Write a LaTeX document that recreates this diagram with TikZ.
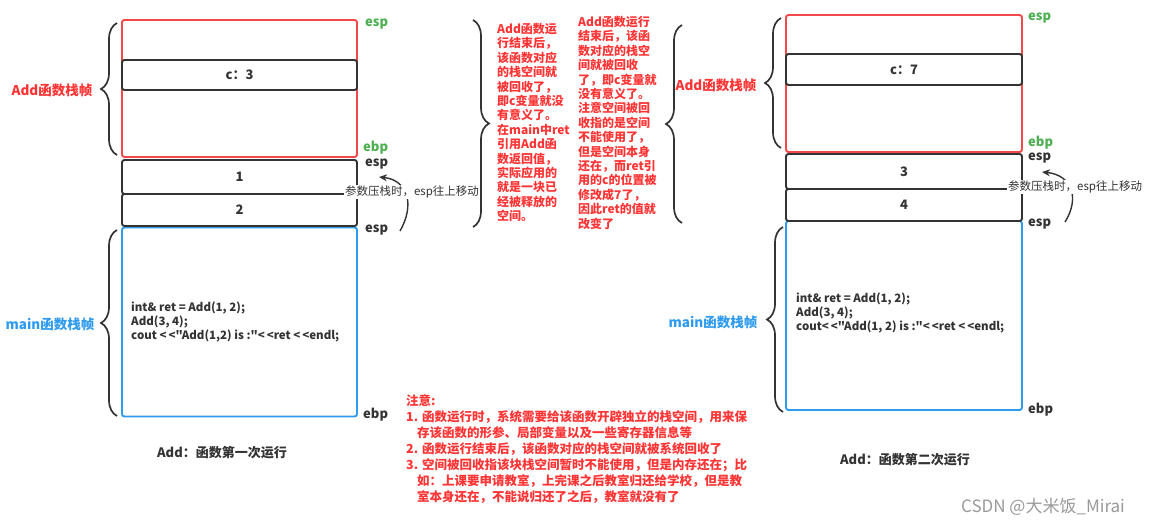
\documentclass[tikz,border=0pt]{standalone}
\usepackage{fontspec}
\setmainfont{Noto Sans CJK SC}
\newfontfamily\codefont{Noto Sans CJK SC}[Ligatures=TeXOff]
\usetikzlibrary{decorations.pathreplacing,arrows.meta}
\definecolor{framered}{HTML}{F24848}
\definecolor{notered}{HTML}{FF3535}
\definecolor{reggreen}{HTML}{4CAF50}
\definecolor{mainblue}{HTML}{2F9BF0}
\definecolor{inkgray}{HTML}{333333}

\begin{document}
\begin{tikzpicture}[x=1pt,y=-1pt,
  cell/.style={draw=inkgray,line width=1.9pt,rounded corners=2.5pt,minimum width=235pt,
    inner sep=0pt,text=inkgray,font=\bfseries\fontsize{13}{15}\selectfont},
  addframe/.style={cell,draw=framered},
  mainframe/.style={cell,draw=mainblue},
  reglbl/.style={anchor=west,inner sep=0pt,text=inkgray,font=\bfseries\fontsize{13}{15}\selectfont},
  topreg/.style={reglbl,text=reggreen},
  framebrace/.style={decorate,decoration={brace,amplitude=16pt},draw=inkgray,line width=1.7pt},
  framelbl/.style={inner sep=0pt,font=\bfseries\fontsize{13.5}{15}\selectfont},
  codetxt/.style={anchor=west,align=left,inner sep=0pt,text=inkgray,font=\codefont\bfseries\fontsize{11.5}{14}\selectfont},
  pushlbl/.style={fill=white,inner sep=1pt,text=inkgray,font=\fontsize{11.5}{14}\selectfont},
  pusharrow/.style={draw=inkgray,line width=1.4pt,-{Stealth[length=8pt,width=7pt]}},
  redcol/.style={anchor=north west,align=left,inner sep=0pt,text=notered,font=\bfseries\fontsize{12}{14.4}\selectfont},
  caption/.style={inner sep=0pt,text=inkgray,font=\bfseries\fontsize{13}{15}\selectfont}]
\useasboundingbox (0,0) rectangle (1149,526);

% first run: Add(1,2)
\node[mainframe,minimum height=189pt] (mainL) at (239.5,322) {};
\node[addframe,minimum height=137pt] (addL) at (239.5,88.5) {};
\node[cell,minimum height=30pt] (cL) at (239.5,75) {c：3};
\node[cell,minimum height=34pt] (oneL) at (239.5,177) {1};
\node[cell,minimum height=32pt] (twoL) at (239.5,210) {2};
\node[codetxt] (codeL) at (131,322) {int\& ret = Add(1, 2);\\Add(3, 4);\\cout <\,<"Add(1,2) is :"<\,<ret <\,<endl;};

\node[topreg] (espLa) at (365,24) {esp};
\node[topreg] (ebpLa) at (363,148) {ebp};
\node[reglbl] (espLb) at (365,164) {esp};
\node[reglbl] (espLc) at (365,230) {esp};
\node[reglbl] (ebpLb) at (363,415) {ebp};

\draw[framebrace] (117,155) -- (117,23);
\node[framelbl,text=notered] (addlblL) at (52,90) {Add函数栈帧};
\draw[framebrace] (117,416) -- (117,230);
\node[framelbl,text=mainblue] (mainlblL) at (50,324) {main函数栈帧};

\coordinate (pushLa) at (400,231);
\coordinate (pushLb) at (379,177);
\draw[pusharrow] (pushLa) .. controls (415,205) and (408,180) .. (pushLb);
\node[pushlbl] (pushL) at (412,192) {参数压栈时，esp往上移动};

\node[caption] (capL) at (222,453) {Add：函数第一次运行};

% notes in the middle
\draw[framebrace] (473,20) -- (473,227);
\node[redcol] (noteA) at (497,23) {Add函数运\\行结束后，\\该函数对应\\的栈空间就\\被回收了，\\即c变量就没\\有意义了。\\在main中ret\\引用Add函\\数返回值，\\实际应用的\\就是一块已\\经被释放的\\空间。};
\node[redcol] (noteB) at (578,16) {Add函数运行\\结束后，该函\\数对应的栈空\\间就被回收\\了，即c变量就\\没有意义了。\\注意空间被回\\收指的是空间\\不能使用了，\\但是空间本身\\还在，而ret引\\用的c的位置被\\修改成7了，\\因此ret的值就\\改变了};

\node[anchor=north west,align=left,inner sep=0pt,text=notered,
  font=\bfseries\fontsize{12.5}{16}\selectfont] (notes) at (406,394)
  {注意:\\
   1. 函数运行时，系统需要给该函数开辟独立的栈空间，用来保\\
   \hspace*{11pt}存该函数的形参、局部变量以及一些寄存器信息等\\
   2. 函数运行结束后，该函数对应的栈空间就被系统回收了\\
   3. 空间被回收指该块栈空间暂时不能使用，但是内存还在；比\\
   \hspace*{11pt}如：上课要申请教室，上完课之后教室归还给学校，但是教\\
   \hspace*{11pt}室本身还在，不能说归还了之后，教室就没有了};

% second run: Add(3,4)
\draw[framebrace] (682,223) -- (682,25);
\node[mainframe,minimum width=236pt,minimum height=189pt] (mainR) at (904,315.5) {};
\node[addframe,minimum width=236pt,minimum height=137pt] (addR) at (904,83.5) {};
\node[cell,minimum width=236pt,minimum height=31pt] (cR) at (904,69.5) {c：7};
\node[cell,minimum width=236pt,minimum height=35pt] (threeR) at (904,171.5) {3};
\node[cell,minimum width=236pt,minimum height=32pt] (fourR) at (904,205) {4};
\node[codetxt] (codeR) at (796,313) {int\& ret = Add(1, 2);\\Add(3, 4);\\cout<\,<"Add(1, 2) is :"<\,<ret <\,<endl;};

\node[topreg] (espRa) at (1028,18) {esp};
\node[topreg] (ebpRa) at (1028,143) {ebp};
\node[reglbl] (espRb) at (1028,158) {esp};
\node[reglbl] (espRc) at (1028,224) {esp};
\node[reglbl] (ebpRb) at (1028,410) {ebp};

\draw[framebrace] (781,148) -- (781,18);
\node[framelbl,text=notered] (addlblR) at (716,85) {Add函数栈帧};
\draw[framebrace] (783,412) -- (783,227);
\node[framelbl,text=mainblue] (mainlblR) at (713,322) {main函数栈帧};

\coordinate (pushRa) at (1065,222);
\coordinate (pushRb) at (1042,172);
\draw[pusharrow] (pushRa) .. controls (1080,198) and (1072,175) .. (pushRb);
\node[pushlbl,anchor=west] (pushR) at (1007,187) {参数压栈时，esp往上移动};

\node[caption] (capR) at (905,460) {Add：函数第二次运行};

\node[inner sep=0pt,text=black!40,font=\fontsize{17}{19}\selectfont] (mark) at (1043,507) {CSDN @大米饭\_Mirai};
\end{tikzpicture}
\end{document}
